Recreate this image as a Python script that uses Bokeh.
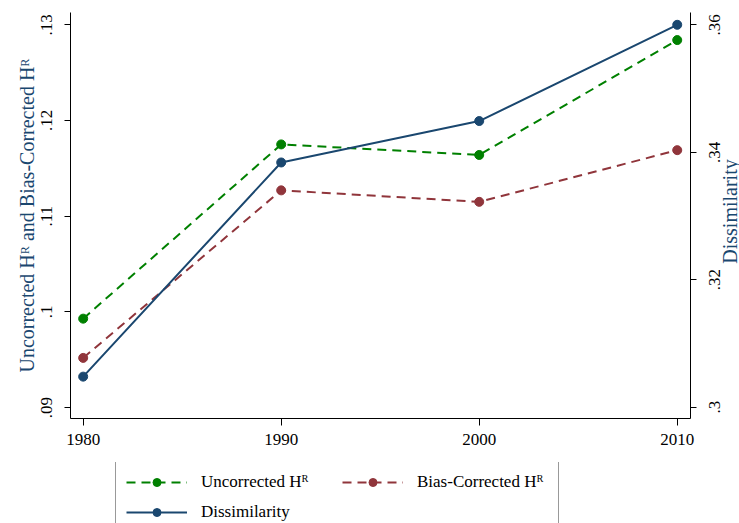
import math
from bokeh.plotting import figure
from bokeh.layouts import column, row
from bokeh.models import (Range1d, LinearAxis, FixedTicker, CustomJSTickFormatter,
                          Legend, LegendItem, Label)
from bokeh.embed import file_html
from bokeh.resources import INLINE

# ---- data ----
years = [1980, 1990, 2000, 2010]
uncorrected = [0.0993, 0.1175, 0.1164, 0.1284]
bias_corrected = [0.0952, 0.1127, 0.1115, 0.1169]
dissimilarity = [0.3048, 0.3384, 0.3449, 0.3600]

x_ticks = [1980, 1990, 2000, 2010]
left_ticks = [0.09, 0.10, 0.11, 0.12, 0.13]
right_ticks = [0.30, 0.32, 0.34, 0.36]

label_unc = "Uncorrected H\u1d3f"
label_bias = "Bias-Corrected H\u1d3f"
label_dis = "Dissimilarity"
left_title = "Uncorrected H\u1d3f and Bias-Corrected H\u1d3f"
right_title = "Dissimilarity"

GREEN = "#008000"
MAROON = "#90353b"
NAVY = "#1a476f"
SERIF = "Liberation Serif"
DASH = "9 6"

LEFT_RANGE = (0.08887, 0.13128)
RIGHT_RANGE = (0.29823, 0.36193)

fmt_code = """
let s = tick.toFixed(2);
if (s.startsWith('0')) s = s.slice(1);
if (s.endsWith('0')) s = s.slice(0, -1);
return s;
"""


def clean(fig):
    fig.outline_line_color = None
    fig.xgrid.visible = False
    fig.ygrid.visible = False
    fig.background_fill_color = "white"
    fig.border_fill_color = "white"


# ---------------- main chart ----------------
p = figure(width=697, height=462, output_backend="svg", toolbar_location=None,
           x_range=Range1d(1979.36, 2010.67), y_range=Range1d(*LEFT_RANGE),
           min_border_left=70, min_border_right=7, min_border_top=12, min_border_bottom=44)
p.extra_y_ranges = {"dis": Range1d(*RIGHT_RANGE)}
clean(p)

xa = p.xaxis[0]
xa.ticker = FixedTicker(ticks=x_ticks)
xa.minor_tick_line_color = None
xa.major_tick_in = 0
xa.major_tick_out = 7
xa.major_label_standoff = 8
xa.major_label_text_font = SERIF
xa.major_label_text_font_size = "17px"
xa.major_label_text_color = "black"
xa.axis_line_color = "black"
xa.major_tick_line_color = "black"

ya = p.yaxis[0]
ya.ticker = FixedTicker(ticks=left_ticks)
ya.formatter = CustomJSTickFormatter(code=fmt_code)
ya.minor_tick_line_color = None
ya.major_tick_in = 0
ya.major_tick_out = 6
ya.major_label_standoff = 12
ya.major_label_orientation = "vertical"
ya.major_label_text_font = SERIF
ya.major_label_text_font_size = "17px"
ya.major_label_text_color = "black"
ya.axis_line_color = "black"
ya.major_tick_line_color = "black"
ya.axis_label = left_title
ya.axis_label_text_font = SERIF
ya.axis_label_text_font_size = "20px"
ya.axis_label_text_font_style = "normal"
ya.axis_label_text_color = NAVY
ya.axis_label_standoff = 1

# right axis line + tick marks (its numbers are drawn by the strip to the right)
ra = LinearAxis(y_range_name="dis", ticker=FixedTicker(ticks=right_ticks),
                formatter=CustomJSTickFormatter(code="return '';"))
ra.minor_tick_line_color = None
ra.major_tick_in = 0
ra.major_tick_out = 6
ra.major_label_standoff = 0
ra.major_label_text_font_size = "1px"
ra.axis_line_color = "black"
ra.major_tick_line_color = "black"
p.add_layout(ra, "right")

p.line(years, uncorrected, line_color=GREEN, line_width=2, line_dash=DASH)
p.scatter(years, uncorrected, size=9, fill_color=GREEN, line_color=GREEN)
p.line(years, bias_corrected, line_color=MAROON, line_width=2, line_dash=DASH)
p.scatter(years, bias_corrected, size=9, fill_color=MAROON, line_color=MAROON)
p.line(years, dissimilarity, line_color=NAVY, line_width=2, y_range_name="dis")
p.scatter(years, dissimilarity, size=9, fill_color=NAVY, line_color=NAVY, y_range_name="dis")

# ---------------- right strip: Dissimilarity tick numbers and title ----------------
rs = figure(width=42, height=462, output_backend="svg", toolbar_location=None,
            x_range=Range1d(0, 1), y_range=Range1d(*RIGHT_RANGE),
            x_axis_location=None, y_axis_location="left",
            min_border_left=23, min_border_right=0, min_border_top=12, min_border_bottom=44)
clean(rs)
rl = rs.yaxis[0]
rl.ticker = FixedTicker(ticks=right_ticks)
rl.formatter = CustomJSTickFormatter(code=fmt_code)
rl.minor_tick_line_color = None
rl.major_tick_in = 0
rl.major_tick_out = 0
rl.major_label_standoff = 0
rl.major_label_orientation = "vertical"
rl.major_label_text_font = SERIF
rl.major_label_text_font_size = "17px"
rl.major_label_text_color = "black"
rl.axis_line_color = None
rl.major_tick_line_color = None

rs.add_layout(Label(x=9, y=207, x_units="screen", y_units="screen", text=right_title,
                    angle=math.pi / 2, text_align="center", text_baseline="middle",
                    text_font=SERIF, text_font_size="20px", text_color=NAVY))

# ---------------- legend strip below ----------------
lg = figure(width=739, height=61, output_backend="svg", toolbar_location=None,
            x_range=Range1d(0, 1), y_range=Range1d(0, 1),
            x_axis_location=None, y_axis_location=None, min_border=0)
clean(lg)

NAN = float("nan")


def proxy(color, dash):
    kw = dict(line_color=color, line_width=2)
    if dash:
        kw["line_dash"] = dash
    ln = lg.line(x=[NAN], y=[NAN], **kw)
    sc = lg.scatter(x=[NAN], y=[NAN], size=9, fill_color=color, line_color=color)
    return [ln, sc]


legend = Legend(items=[LegendItem(label=label_unc, renderers=proxy(GREEN, DASH)),
                       LegendItem(label=label_bias, renderers=proxy(MAROON, DASH)),
                       LegendItem(label=label_dis, renderers=proxy(NAVY, None))],
                location=(115, -10), orientation="horizontal", ncols=2,
                glyph_width=61, glyph_height=20, label_standoff=14, label_width=131,
                label_height=20, spacing=10, padding=10, margin=0,
                label_text_font=SERIF, label_text_font_size="17px",
                label_text_color="black", border_line_color="#333333",
                border_line_width=1, background_fill_color="white",
                background_fill_alpha=1)
lg.add_layout(legend, "center")

layout = column(row(p, rs, spacing=0), lg, spacing=0)
open("out.html", "w").write(file_html(layout, INLINE))
